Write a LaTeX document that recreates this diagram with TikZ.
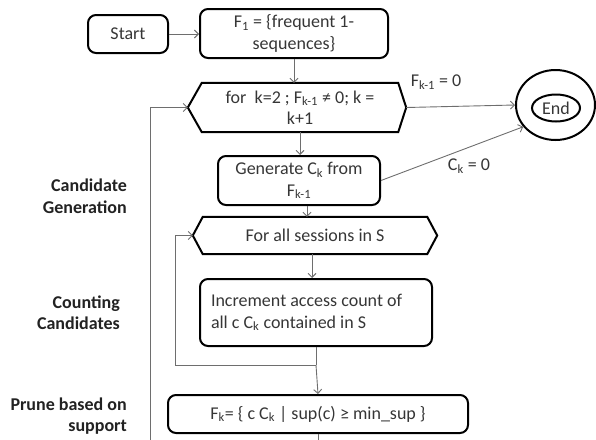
\documentclass[tikz,border=0pt]{standalone}
\usepackage{fontspec}
\setmainfont{Carlito}
\usetikzlibrary{arrows.meta,shapes.geometric}
\definecolor{txt}{HTML}{363636}
\definecolor{lbl}{HTML}{222222}
\definecolor{wire}{HTML}{6E6E6E}

\begin{document}
\begin{tikzpicture}[x=1pt,y=-1pt,
  font=\fontsize{18}{21.5}\selectfont,
  box/.style={draw=black,line width=2pt,rounded corners=8pt,inner sep=0pt,align=center,text=txt},
  hexbody/.style={inner sep=0pt,align=center,text=txt},
  hexline/.style={draw=black,line width=2pt,line join=miter},
  ring/.style={ellipse,draw=black,line width=2pt,inner sep=0pt,text=txt},
  wirel/.style={draw=wire,line width=0.9pt,-{Straight Barb[length=4pt,width=8pt]}},
  plainwire/.style={draw=wire,line width=0.9pt},
  edgelabel/.style={inner sep=0pt,text=txt},
  sidelabel/.style={align=right,anchor=east,font=\fontsize{18}{21.5}\selectfont\bfseries,text=lbl,inner sep=0pt},
  ]
\useasboundingbox (0,0) rectangle (596,439);
\clip (0,0) rectangle (596,439);

% main flow boxes
\node[box,minimum width=80pt,minimum height=38pt] (start) at (128,34) {Start};
\node[box,minimum width=188pt,minimum height=49pt] (f1) at (294,33.5)
  {F\textsubscript{1} = \{frequent 1-\\sequences\}};

% outer loop header (hexagon)
\node[hexbody,minimum width=196pt,minimum height=49pt] (loop) at (300,107.5)
  {for\ \ k=2 ; F\textsubscript{k-1} ≠ 0; k =\\k+1};
\coordinate (loopW) at ([xshift=-14pt]loop.west);
\coordinate (loopE) at ([xshift=8pt]loop.east);
\draw[hexline] (loop.north west) -- (loop.north east) -- (loopE) -- (loop.south east)
  -- (loop.south west) -- (loopW) -- cycle;

\node[box,minimum width=162pt,minimum height=49pt] (gen) at (299,180.5)
  {Generate C\textsubscript{k} from\\F\textsubscript{k-1}};

% inner loop header (hexagon)
\node[hexbody,minimum width=224pt,minimum height=37pt] (hexs) at (315,235.5)
  {For all sessions in S};
\coordinate (hexsW) at ([xshift=-10pt]hexs.west);
\coordinate (hexsE) at ([xshift=10pt]hexs.east);
\draw[hexline] (hexs.north west) -- (hexs.north east) -- (hexsE) -- (hexs.south east)
  -- (hexs.south west) -- (hexsW) -- cycle;

\node[box,align=flush left,text width=210pt,inner xsep=11pt,minimum height=67pt] (inc) at (316,312.5)
  {Increment access count of\\all c C\textsubscript{k} contained in S};

\node[box,minimum width=300pt,minimum height=38pt] (prune) at (318,414)
  {F\textsubscript{k}= \{ c C\textsubscript{k} | sup(c) ≥ min\_sup \}};

% terminal
\node[ring,minimum width=79pt,minimum height=70pt] (endo) at (555.5,105) {};
\node[ring,minimum width=48pt,minimum height=27pt] (endi) at (556,108) {End};

% connectors
\draw[wirel] (start.east) -- (start.east -| f1.west);
\draw[wirel] (f1.south) -- (f1.south |- loop.north);
\draw[wirel] (loop.south) -- (loop.south |- gen.north);
\draw[wirel] ([xshift=8pt]gen.south) -- ([xshift=8pt]gen.south |- hexs.north);
\draw[wirel] ([xshift=-3pt]hexs.south) -- ([xshift=-3pt]hexs.south |- inc.north);
\coordinate (join) at (316,365);
\draw[plainwire] (inc.south) -- (join);
\draw[wirel] (join) -- (prune.north);
\coordinate (innerturn) at (175,365);
\draw[wirel] (join) -- (innerturn) |- (hexsW);
\coordinate (outerturn) at (150,455);
\draw[wirel] (prune.south) |- (outerturn) |- (loopW);
\draw[wirel] (loopE) -- (endo.west);
\draw[wirel] (gen.east) -- (endo.214);

% edge labels
\node[edgelabel] (lblF) at (436,82) {F\textsubscript{k-1} = 0};
\node[edgelabel] (lblC) at (469,166) {C\textsubscript{k} = 0};

% phase labels
\node[sidelabel] (phase1) at (127,196) {Candidate\\Generation};
\node[sidelabel] (phase2) at (120,312.5) {Counting\\Candidates};
\node[sidelabel] (phase3) at (127,416) {Prune based on\\support};
\end{tikzpicture}
\end{document}
